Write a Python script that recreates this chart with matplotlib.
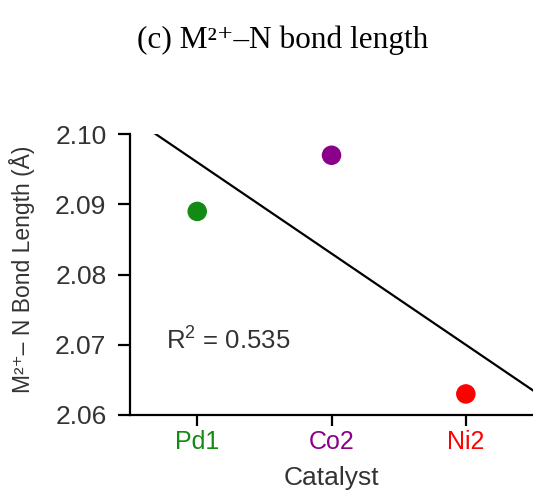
"""(c) M2+-N bond length vs catalyst, with linear fit"""

import numpy as np
import matplotlib
matplotlib.use("Agg")
import matplotlib.pyplot as plt

catalysts = ["Pd1", "Co2", "Ni2"]
bond_length = [2.089, 2.097, 2.063]
point_colors = ["#138a13", "#8b008b", "#ff0000"]
r2_label = "R$^2$ = 0.535"
y_ticks = [2.06, 2.07, 2.08, 2.09, 2.10]

plt.rcParams["font.family"] = ["Liberation Sans", "DejaVu Sans"]
plt.rcParams["mathtext.fontset"] = "custom"
plt.rcParams["mathtext.rm"] = "Liberation Sans"

fig = plt.figure(figsize=(5.33, 4.97), dpi=100)
ax = fig.add_axes([0.244, 0.165, 0.756, 0.565])

x = np.arange(1, len(catalysts) + 1)
ax.scatter(x, bond_length, s=170, c=point_colors, zorder=3)

# 线性拟合
k, b = np.polyfit(x, bond_length, 1)
xf = np.array([0.5, 3.5])
ax.plot(xf, k * xf + b, color="black", lw=1.6)

ax.text(0.77, 2.0707, r2_label, fontsize=18.5, color="#333333", ha="left", va="center")

ax.set_xlim(0.5, 3.5)
ax.set_ylim(2.06, 2.10)
ax.set_xticks(x)
ax.set_xticklabels(catalysts, fontsize=18)
for lbl, c in zip(ax.get_xticklabels(), point_colors):
    lbl.set_color(c)
ax.set_yticks(y_ticks)
ax.set_yticklabels([f"{v:.2f}" for v in y_ticks], fontsize=19, color="#333333")

for side in ["top", "right"]:
    ax.spines[side].set_visible(False)
for side in ["left", "bottom"]:
    ax.spines[side].set_linewidth(1.6)
ax.tick_params(axis="x", length=8, width=1.6, pad=3)
ax.tick_params(axis="y", length=9, width=1.6, pad=8)

ax.set_xlabel("Catalyst", fontsize=19, color="#333333", va="top")
ax.xaxis.set_label_coords(0.5, -0.18)
ax.set_ylabel("M²⁺– N Bond Length (Å)", fontsize=16.5, color="#333333")
ax.yaxis.set_label_coords(-0.236, 0.52)

fig.text(0.53, 0.92, "(c) M²⁺–N bond length", fontsize=22.5, ha="center", va="center",
         family=["Liberation Serif", "DejaVu Serif"])

fig.savefig("out.png", dpi=100)
plt.close(fig)
